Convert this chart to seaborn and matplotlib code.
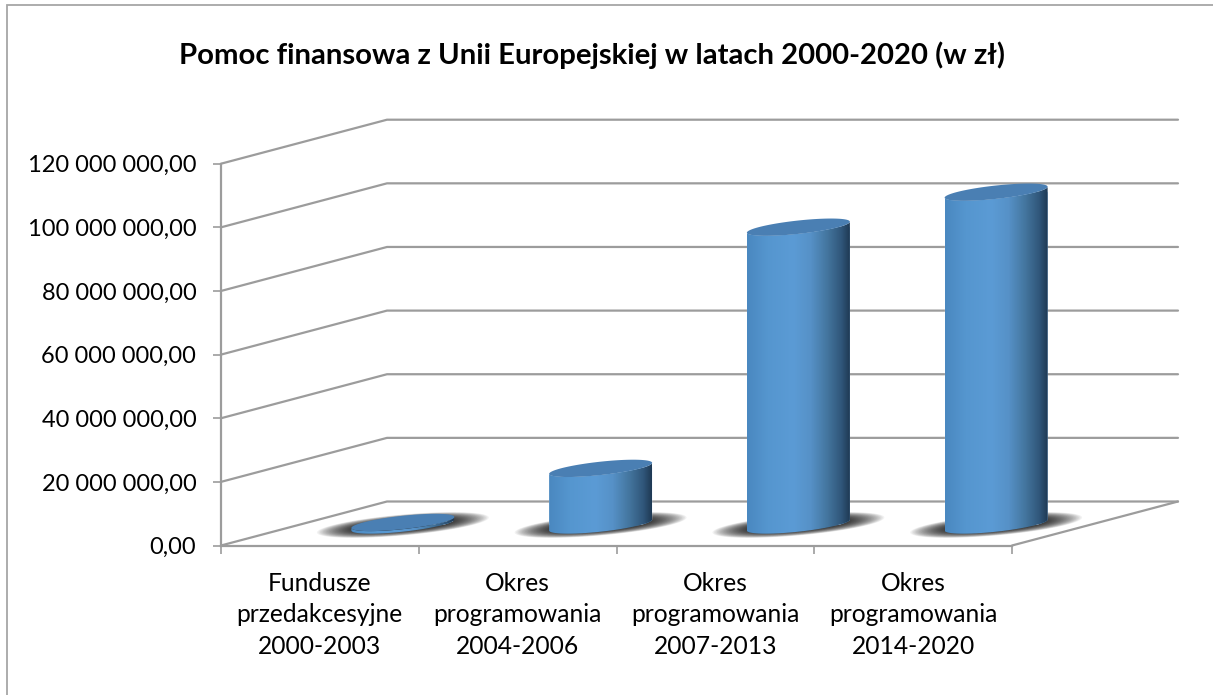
import numpy as np
import pandas as pd
import matplotlib
matplotlib.use("Agg")
import matplotlib.pyplot as plt
import seaborn as sns
from matplotlib.colors import LinearSegmentedColormap
from matplotlib.lines import Line2D
from matplotlib.patches import Polygon, Rectangle
from matplotlib.path import Path
from matplotlib.ticker import FuncFormatter
from matplotlib.transforms import Affine2D, IdentityTransform

categories = [
    "Fundusze\nprzedakcesyjne\n2000-2003",
    "Okres\nprogramowania\n2004-2006",
    "Okres\nprogramowania\n2007-2013",
    "Okres\nprogramowania\n2014-2020",
]
amounts = [800000, 17800000, 93600000, 104600000]
y_ticks = [0, 20000000, 40000000, 60000000, 80000000, 100000000, 120000000]
title = "Pomoc finansowa z Unii Europejskiej w latach 2000-2020 (w zł)"

W, H = 1213, 695
GREY = "#9c9c9c"
DEPTH_X, DEPTH_Y = 166, 44  # back wall offset in pixels
SKEW, MINOR = 5.5, 6.7      # shape of the cylinder ellipses

sns.set_theme(style="white")
plt.rcParams["font.family"] = ["Lato", "DejaVu Sans"]

fig = plt.figure(figsize=(W / 100, H / 100), dpi=100)
ax = fig.add_axes([221 / W, (H - 545.5) / H, 791 / W, 381.8 / H])
ax.patch.set_visible(False)

df = pd.DataFrame({"category": categories, "amount": amounts})
sns.barplot(data=df, x="category", y="amount", color="#5b9bd5", saturation=1,
            width=103 / 197.75, ax=ax, zorder=5)

ax.set_xlim(-0.5, len(categories) - 0.5)
ax.set_ylim(0, y_ticks[-1])
ax.set_autoscale_on(False)
ax.set_xlabel("")
ax.set_ylabel("")
ax.set_yticks(y_ticks)
ax.yaxis.set_major_formatter(FuncFormatter(lambda v, p: f"{v:,.2f}".replace(",", " ").replace(".", ",")))
ax.set_xticks(range(len(categories)))
ax.set_xticklabels(categories, linespacing=1.45)
ax.set_xticks(np.arange(len(categories) + 1) - 0.5, minor=True)
ax.tick_params(axis="x", which="major", length=0, pad=19, labelsize=17.7, colors="black")
ax.tick_params(axis="x", which="minor", length=5.8, width=1.2, color=GREY, bottom=True)
ax.tick_params(axis="y", length=5.8, width=1.2, color=GREY, left=True, pad=12, labelsize=17, labelcolor="black")
for side in ["top", "right"]:
    ax.spines[side].set_visible(False)
for side in ["left", "bottom"]:
    ax.spines[side].set_color(GREY)
    ax.spines[side].set_linewidth(1.6)

x0, x1 = ax.get_xlim()


def px(x, y):
    return ax.transData.transform((x, y))


def wall_line(points, **kw):
    xs, ys = zip(*points)
    ax.add_line(Line2D(xs, ys, transform=IdentityTransform(), clip_on=False,
                       color=GREY, lw=1.6, zorder=1, **kw))


back = np.array([DEPTH_X, DEPTH_Y])
for v in y_ticks:
    wall_line([px(x0, v), px(x0, v) + back, px(x1, v) + back])
wall_line([px(x1, 0), px(x1, 0) + back])

side_cmap = LinearSegmentedColormap.from_list("side", [
    (0.0, "#4a88c0"), (0.2, "#5596cf"), (0.45, "#5b9bd5"), (0.62, "#5691c7"),
    (0.78, "#44769f"), (0.92, "#30567a"), (1.0, "#1f3a55"),
])
shift = Affine2D().translate(DEPTH_X / 2, DEPTH_Y / 2)


def ellipse(cx, cy, a, k, b, t):
    return np.column_stack([cx + a * np.cos(t), cy + k * np.cos(t) + b * np.sin(t)])


for bar in ax.containers[0]:
    left = px(bar.get_x(), 0) + back / 2
    top = px(bar.get_x(), bar.get_height()) + back / 2
    a = (px(bar.get_x() + bar.get_width(), 0)[0] - px(bar.get_x(), 0)[0]) / 2
    cx, y_base, y_top = left[0] + a, left[1] - 1.5, top[1] - 1.5

    # soft shadow on the floor
    for s in np.linspace(1, 0.4, 36):
        ax.add_patch(Polygon(ellipse(cx, y_base, 86 * s, 7.5 * s, 10.5 * s, np.linspace(0, 2 * np.pi, 80)),
                             transform=IdentityTransform(), clip_on=False, fc="black", ec="none",
                             alpha=0.05, zorder=2))

    # cylinder side: seaborn bar clipped to the body, gradient on top
    lower = np.linspace(np.pi, 2 * np.pi, 60)
    body = np.vstack([ellipse(cx, y_base, a, SKEW, MINOR, lower),
                      ellipse(cx, y_top, a, SKEW, MINOR, lower)[::-1]])
    clip = Path(np.vstack([body, body[:1]]), closed=True)
    bar.set_transform(ax.transData + shift)
    bar.set_clip_box(fig.bbox)
    bar.set_clip_path(clip, IdentityTransform())
    im = ax.imshow(np.linspace(0, 1, 200)[None, :], cmap=side_cmap, aspect="auto",
                   extent=(cx - a, cx + a, y_base - 20, y_top + 20),
                   transform=IdentityTransform(), zorder=6)
    im.set_clip_box(fig.bbox)
    im.set_clip_path(clip, IdentityTransform())

    # top of the cylinder
    ax.add_patch(Polygon(ellipse(cx, y_top, a, SKEW, MINOR, np.linspace(0, 2 * np.pi, 120)),
                         transform=IdentityTransform(), clip_on=False, fc="#4a7fb3", ec="none", zorder=7))

fig.add_artist(Rectangle((7 / W, -0.05), 1.1, (H - 5) / H + 0.05, transform=fig.transFigure,
                         fc="none", ec="#a6a6a6", lw=1.3))
fig.text(592 / W, (H - 55) / H, title, ha="center", va="center", fontsize=21.1,
         fontweight="bold", color="black")

fig.savefig("out.png", dpi=100, facecolor="white")
